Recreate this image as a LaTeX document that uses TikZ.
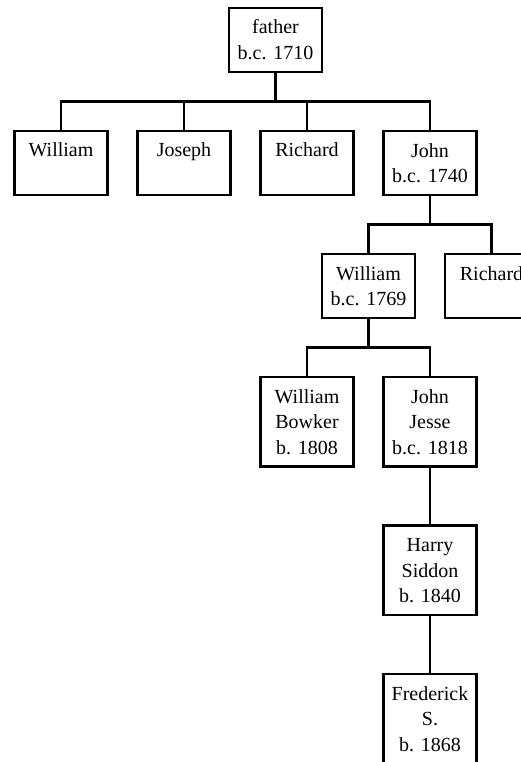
\documentclass[tikz,border=0pt]{standalone}
\usepackage{fontspec}
\setmainfont{Liberation Serif}
\usetikzlibrary{positioning}

\tikzset{
	person/.style={draw,line width=2.8pt,minimum width=93pt,align=center,
		inner ysep=11pt,outer sep=0pt,text height=40.5pt,text depth=1.5pt,
		font=\fontsize{20}{25.5}\selectfont},
	single/.style={person,text height=15pt,text depth=27pt},
	tall/.style={person,text height=66pt},
	link/.style={line width=2.8pt}
}

\begin{document}
\begin{tikzpicture}
	\useasboundingbox (0,0) rectangle (521pt,-762pt);
	% first generation
	\node[person,anchor=north] (father) at (275.5pt,-8pt) {father\\b.c. 1710};
	% his sons
	\node[single,anchor=north] (william) at (61pt,-131pt) {William};
	\node[single,right=30pt of william] (joseph) {Joseph};
	\node[single,right=30pt of joseph] (richard) {Richard};
	\node[person,right=30pt of richard] (john) {John\\b.c. 1740};
	% sons of John
	\node[person,below=59pt of john,xshift=-61.5pt] (williamii) {William\\b.c. 1769};
	\node[single,right=30pt of williamii] (richardii) {Richard};
	% sons of William
	\node[tall,below=59pt of williamii,xshift=-61.5pt] (bowker) {William\\Bowker\\b. 1808};
	\node[tall,right=30pt of bowker] (jesse) {John\\Jesse\\b.c. 1818};
	% down the line
	\node[tall,below=59pt of jesse] (harry) {Harry\\Siddon\\b. 1840};
	\node[tall,below=59pt of harry] (frederick) {Frederick\\S.\\b. 1868};

	\foreach \kid in {william,joseph,richard,john}
		\draw[link] (father.south) -- ++(0,-29.5pt) -| (\kid.north);
	\foreach \kid in {williamii,richardii}
		\draw[link] (john.south) -- ++(0,-29.5pt) -| (\kid.north);
	\foreach \kid in {bowker,jesse}
		\draw[link] (williamii.south) -- ++(0,-29.5pt) -| (\kid.north);
	\draw[link] (jesse) -- (harry);
	\draw[link] (harry) -- (frederick);
\end{tikzpicture}
\end{document}
